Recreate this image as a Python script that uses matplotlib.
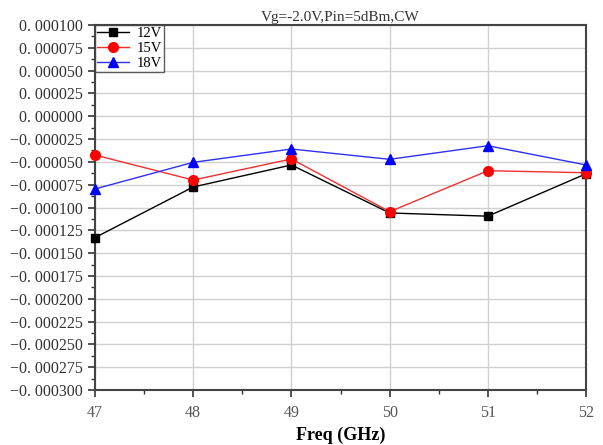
import numpy as np
import matplotlib.pyplot as plt
from matplotlib.ticker import MultipleLocator, FuncFormatter

# Data
freq = [47, 48, 49, 50, 51, 52]
v12 = [-0.000133, -0.0000775, -0.0000534, -0.000106, -0.0001095, -0.0000630]
v15 = [-0.0000425, -0.0000699, -0.0000468, -0.0001046, -0.0000597, -0.0000619]
v18 = [-0.0000797, -0.0000505, -0.0000359, -0.0000472, -0.0000323, -0.0000534]

plt.rcParams['font.family'] = ['Liberation Serif', 'DejaVu Serif']

fig = plt.figure(figsize=(6.03, 4.45), dpi=100)
ax = fig.add_axes([0.1575, 0.1236, 0.8145, 0.8202])

ax.plot(freq, v12, color='black', lw=1, marker='s', ms=6, label='12V', clip_on=False, zorder=3)
ax.plot(freq, v15, color='#f03030', lw=1, marker='o', ms=7, mfc='red', mec='red', label='15V', clip_on=False, zorder=3)
ax.plot(freq, v18, color='#3030f0', lw=1, marker='^', ms=7, mfc='blue', mec='blue', label='18V', clip_on=False, zorder=3)

ax.set_xlim(47, 52)
ax.set_ylim(-0.0003, 0.0001)
ax.xaxis.set_major_locator(MultipleLocator(1))
ax.xaxis.set_minor_locator(MultipleLocator(0.5))
ax.yaxis.set_major_locator(MultipleLocator(0.000025))
ax.yaxis.set_minor_locator(MultipleLocator(0.0000125))


def fmt(v, pos):
    s = f"{abs(v):.6f}".replace('.', '. ')
    return ('\u2212' + s) if v < -1e-12 else s


ax.yaxis.set_major_formatter(FuncFormatter(fmt))
ax.tick_params(axis='both', which='both', direction='out', color='#333333')
ax.tick_params(axis='both', which='major', length=5, width=1.2, labelsize=11.5, labelcolor='#333333')
ax.tick_params(axis='both', which='minor', length=3, width=1.0)
ax.tick_params(axis='x', pad=6, labelcolor='#555555')

ax.grid(True, which='major', color='#d0d0d0', lw=1)
ax.set_axisbelow(True)
for sp in ax.spines.values():
    sp.set_color('#444444')
    sp.set_linewidth(1.5)

ax.set_title('Vg=-2.0V,Pin=5dBm,CW', fontsize=11, pad=3, color='#333333')
ax.set_xlabel('Freq (GHz)', fontsize=13, fontweight='bold', labelpad=4)

leg = ax.legend(loc='upper left', fontsize=10.5, frameon=True, fancybox=False,
                borderpad=0.15, labelspacing=0.1, handlelength=2.2, handletextpad=0.5,
                borderaxespad=0.0)
leg.get_frame().set_edgecolor('#333333')
leg.get_frame().set_linewidth(1)

fig.savefig('out.png', dpi=100)
